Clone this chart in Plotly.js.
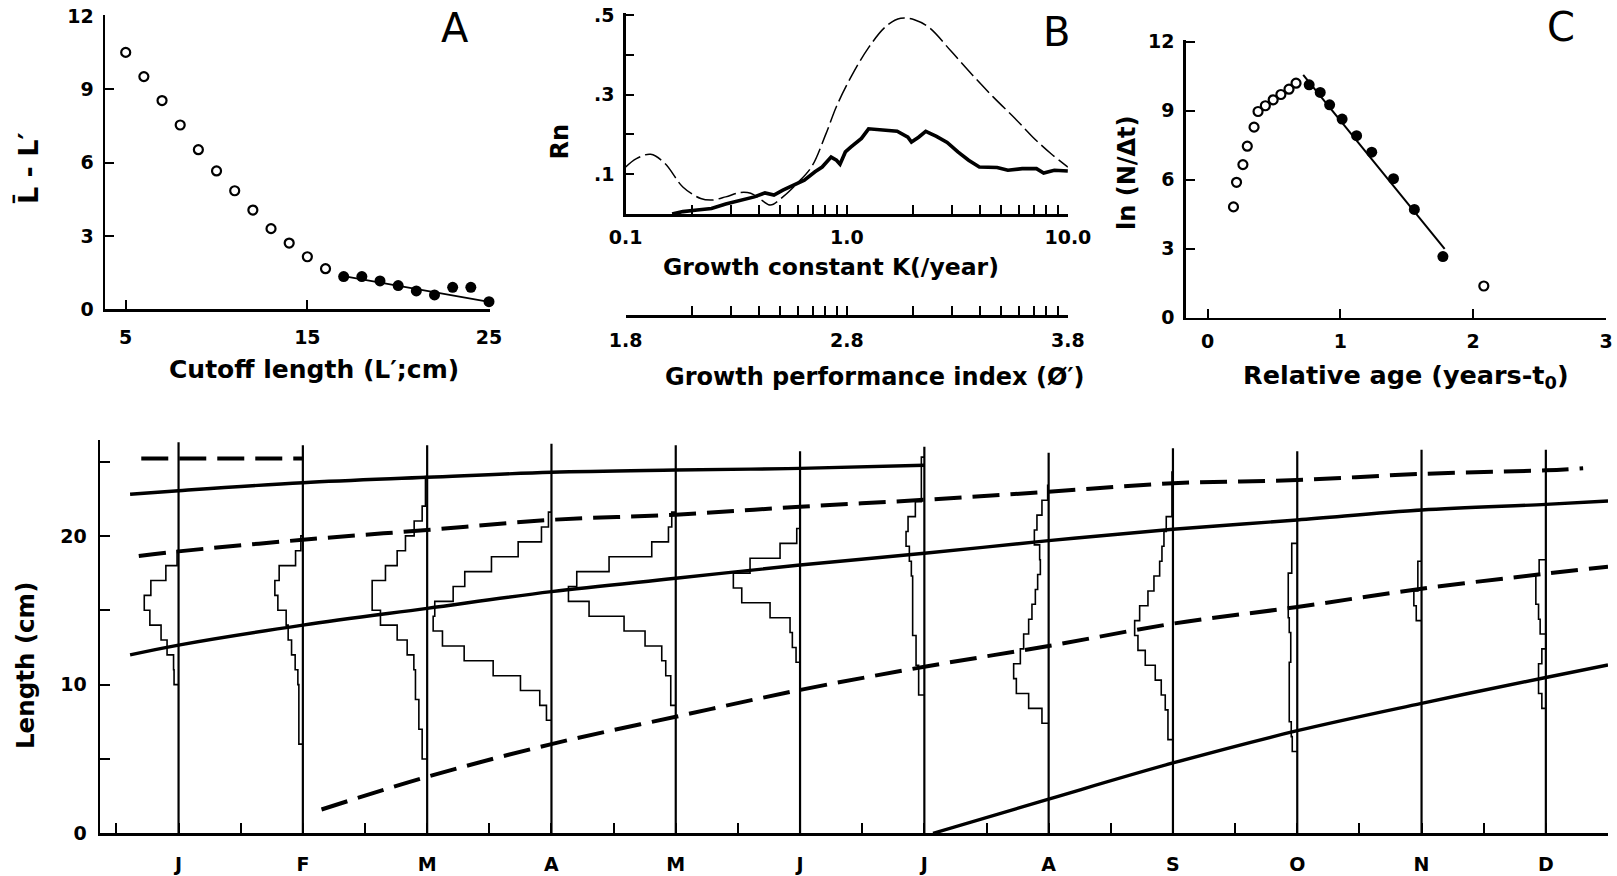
<!DOCTYPE html>
<html><head><meta charset="utf-8">
<script src="https://cdn.plot.ly/plotly-3.0.1.min.js"></script>
<style>html,body{margin:0;padding:0;background:#fff;} #chart{width:1617px;height:876px;}</style>
</head><body><div id="chart"></div>
<script>
// ---------- Panel A ----------
const cutoffOpen = [5,6,7,8,9,10,11,12,13,14,15,16];
const diffOpen = [10.51,9.52,8.54,7.54,6.53,5.66,4.85,4.06,3.30,2.71,2.15,1.66];
const cutoffFilled = [17,18,19,20,21,22,23,24,25];
const diffFilled = [1.34,1.34,1.16,0.97,0.75,0.59,0.90,0.90,0.31];
const fitAx = [17,25];
const fitAy = [1.36,0.30];

// ---------- Panel B ----------
const kDash = [0.1,0.1118,0.1297,0.1505,0.1813,0.2184,0.2442,0.2834,0.3289,0.3676,0.4111,0.4512,0.5139,0.5963,0.692,0.8029,0.8979,1.042,1.2546,1.511,1.7536,2.035,2.362,2.953,3.69,4.613,5.767,6.945,8.366,10];
const rnDash = [0.118,0.139,0.15,0.127,0.068,0.039,0.035,0.043,0.054,0.052,0.035,0.0225,0.043,0.077,0.118,0.2,0.27,0.343,0.418,0.4725,0.4917,0.4875,0.468,0.41,0.35,0.293,0.24,0.193,0.152,0.118];
const kSolid = [0.1622,0.1813,0.2104,0.2442,0.2834,0.3289,0.3817,0.4266,0.4683,0.5139,0.5744,0.6424,0.7181,0.7735,0.849,0.8979,0.9318,0.9852,1.042,1.1648,1.2546,1.4561,1.6898,1.889,1.9606,2.112,2.275,2.544,2.844,3.18,3.556,3.976,4.787,5.353,6.212,7.208,7.767,8.682,10];
const rnSolid = [0,0.006,0.01,0.014,0.025,0.033,0.043,0.053,0.0475,0.06,0.0725,0.085,0.106,0.118,0.143,0.135,0.125,0.156,0.168,0.19,0.214,0.212,0.208,0.193,0.181,0.193,0.2075,0.195,0.18,0.156,0.135,0.118,0.117,0.11,0.114,0.114,0.103,0.11,0.108];
const kTicks = [0.1,0.2,0.3,0.4,0.5,0.6,0.7,0.8,0.9,1,2,3,4,5,6,7,8,9,10];
const kLabelAt = [0.1,1,10];
const kLabels = ['0.1','1.0','10.0'];
const phiLabels = ['1.8','2.8','3.8'];
const rnTicks = [0,0.1,0.2,0.3,0.4,0.5];
const rnLabels = ['','.1','','.3','','.5'];

// ---------- Panel C ----------
const ageOpen = [0.195,0.218,0.266,0.299,0.35,0.38,0.435,0.494,0.552,0.613,0.666,2.08];
const lnOpen = [4.81,5.88,6.65,7.45,8.28,8.96,9.21,9.47,9.70,9.93,10.19,1.37];
const ageFilled = [0.765,0.848,0.919,1.013,1.122,1.236,1.40,1.557,1.772];
const lnFilled = [10.12,9.79,9.25,8.63,7.91,7.19,6.04,4.70,2.65];
const fitCx = [0.72,1.785];
const fitCy = [10.55,2.99];

// ---------- Panel D ----------
const monthLabels = ['J','F','M','A','M','J','J','A','S','O','N','D'];
const monthLineTop = [26.3,26.1,26.1,26.2,26.1,25.7,26.0,25.6,25.9,25.7,25.8,25.8];
const g1x = [-0.39,0,1,2,3,4,5,6];
const g1y = [22.8,23.04,23.58,23.94,24.28,24.43,24.54,24.75];
const g2x = [-0.3,1.0];
const g2y = [25.2,25.2];
const g3x = [-0.32,0,1,2,3,4,5,6,7,8,9,10,11,11.3];
const g3y = [18.65,18.96,19.74,20.4,21.08,21.43,21.96,22.43,22.97,23.54,23.76,24.17,24.41,24.55];
const g4x = [-0.39,0,1,2,3,4,5,6,7,8,9,10,11,11.5];
const g4y = [12.0,12.66,14.0,15.13,16.25,17.15,18.04,18.83,19.68,20.45,21.07,21.74,22.12,22.35];
const g5x = [1.15,2,3,4,5,6,7,8,9,10,11,11.5];
const g5y = [1.6,3.8,6.0,7.84,9.64,11.2,12.6,14.1,15.22,16.45,17.46,17.93];
const g6x = [6.07,7,8,9,10,11,11.5];
const g6y = [0,2.3,4.73,6.9,8.74,10.48,11.32];
// length-frequency histograms: lowest bin edge (cm), 1-cm bins, relative frequency
const histStart = [10,6,5,7.6,8.6,11.5,9.3,7.4,6.3,5.5,14.3,8.4];
const histJan = [4.5,5,11.5,17.5,28.7,34.3,27.7,12.7,1.5];
const histFeb = [4,4,4,4,5,7.7,11.3,14.7,16.7,25,28,23.7,7.3,2];
const histMar = [5,5,8.3,8.3,11.7,11.7,13.3,20,30,46.7,55,55,41.7,30,21.7,13,5,1.7,1.7];
const histApr = [5,11.7,31,58.3,87.3,109,118.3,116.7,98.3,86.7,60,33.3,10,3];
const histMay = [5,5,10,14,30.7,51.7,86.7,107.3,99,66.7,24,7.3,4];
const histJun = [4,7.7,10,30,58.3,66.7,50,20,3.3];
const histJul = [5.7,5.7,8.3,8.3,11.7,11.7,11.7,11.7,13,15,18.3,16.3,9,3,3,3];
const histAug = [6.7,20,32.3,35,28.3,25,20,16.7,13.3,11,8.3,9,14.3,11.7,6.7,1];
const histSep = [5,5,7.7,11.7,17.7,27.7,35,38.3,33.3,25,19,13.3,11,9,6.7,1,1,1];
const histOct = [5,6,8,8,8,8,6.5,6.5,8,9,9,9,5.5,5.5];
const histNov = [5.3,7.7,3.7,3.7];
const histDec = [4,7.3,7.3,4,0,5.7,7.3,10,10,6.7];
const histAll = [histJan,histFeb,histMar,histApr,histMay,histJun,histJul,histAug,histSep,histOct,histNov,histDec];
const binWidth = 1;          // cm
const freqToMonth = 1/124.3; // horizontal scale of the histograms

// ---------- layout helpers ----------
const W = 1617, H = 876;
const FONT = 'DejaVu Sans';
const dx = (a,b) => [a/W, b/W];
const dy = (bottom,top) => [1-bottom/H, 1-top/H];
const tickFont = {family:FONT, size:19, color:'#000', weight:700};
const tf = (s) => ({family:FONT, size:s, color:'#000', weight:700});
const axBase = {showgrid:false, zeroline:false, showline:true, linecolor:'#000', linewidth:2.5,
  ticks:'inside', ticklen:9, tickwidth:2, tickcolor:'#000', tickfont:tickFont, fixedrange:true};

const traces = [];
// Panel A
traces.push({x:fitAx, y:fitAy, xaxis:'x', yaxis:'y', mode:'lines', line:{color:'#000', width:1.8}, cliponaxis:false});
traces.push({x:cutoffOpen, y:diffOpen, xaxis:'x', yaxis:'y', mode:'markers', cliponaxis:false,
  marker:{symbol:'circle-open', size:9, color:'#000', line:{width:2.2, color:'#000'}}});
traces.push({x:cutoffFilled, y:diffFilled, xaxis:'x', yaxis:'y', mode:'markers', cliponaxis:false,
  marker:{symbol:'circle', size:11, color:'#000'}});
// Panel B
traces.push({x:kDash, y:rnDash, xaxis:'x2', yaxis:'y2', mode:'lines', line:{color:'#000', width:1.5, dash:'18px,5px', shape:'spline'}, cliponaxis:false});
traces.push({x:kSolid, y:rnSolid, xaxis:'x2', yaxis:'y2', mode:'lines', line:{color:'#000', width:3.6}, cliponaxis:false});
traces.push({x:[], y:[], xaxis:'x4', yaxis:'y4', mode:'lines', hoverinfo:'skip'});
// Panel C
traces.push({x:fitCx, y:fitCy, xaxis:'x3', yaxis:'y3', mode:'lines', line:{color:'#000', width:2}, cliponaxis:false});
traces.push({x:ageOpen, y:lnOpen, xaxis:'x3', yaxis:'y3', mode:'markers', cliponaxis:false,
  marker:{symbol:'circle-open', size:9, color:'#000', line:{width:2.2, color:'#000'}}});
traces.push({x:ageFilled, y:lnFilled, xaxis:'x3', yaxis:'y3', mode:'markers', cliponaxis:false,
  marker:{symbol:'circle', size:11, color:'#000'}});
// Panel D: histograms
histAll.forEach((f, m) => {
  const xs = [m], ys = [histStart[m]];
  f.forEach((v, i) => {
    const lo = histStart[m] + i*binWidth, hi = lo + binWidth;
    xs.push(m - v*freqToMonth, m - v*freqToMonth);
    ys.push(lo, hi);
  });
  xs.push(m); ys.push(histStart[m] + f.length*binWidth);
  traces.push({x:xs, y:ys, xaxis:'x5', yaxis:'y5', mode:'lines', line:{color:'#000', width:1.6}, cliponaxis:false});
});
// month lines
{
  const xs = [], ys = [];
  monthLineTop.forEach((t, m) => { xs.push(m, m, null); ys.push(0, t, null); });
  traces.push({x:xs, y:ys, xaxis:'x5', yaxis:'y5', mode:'lines', line:{color:'#000', width:2.2}, cliponaxis:false});
}
const solidD = {color:'#000', width:3.4, shape:'spline'};
const dashD = {color:'#000', width:4, dash:'27px,11px', shape:'spline'};
[[g1x,g1y,solidD],[g2x,g2y,dashD],[g3x,g3y,dashD],[g4x,g4y,solidD],[g5x,g5y,dashD],[g6x,g6y,solidD]].forEach(([x,y,l]) => {
  traces.push({x:x, y:y, xaxis:'x5', yaxis:'y5', mode:'lines', line:l, cliponaxis:false});
});

// D x ticks: month labels + half-month ticks
const dTickVals = [], dTickText = [];
monthLabels.forEach((lab, m) => { dTickVals.push(m-0.5, m); dTickText.push('', lab); });
dTickVals.push(monthLabels.length-0.5); dTickText.push('');
const kText = kTicks.map(v => { const i = kLabelAt.indexOf(v); return i >= 0 ? kLabels[i] : ''; });
const phiText = kTicks.map(v => { const i = kLabelAt.indexOf(v); return i >= 0 ? phiLabels[i] : ''; });

const note = (text, x, y, size, angle) => ({text:text, xref:'paper', yref:'paper', x:x/W, y:1-y/H,
  xanchor:'center', yanchor:'middle', textangle:angle||0, showarrow:false, font:tf(size)});

const layout = {
  width:W, height:H, margin:{l:0,r:0,t:0,b:0}, paper_bgcolor:'#fff', plot_bgcolor:'rgba(0,0,0,0)',
  showlegend:false, font:{family:FONT, color:'#000'},
  // A
  xaxis: Object.assign({}, axBase, {domain:dx(105,490), range:[3.86,25.055], anchor:'y',
    tickvals:[5,15,25], ticklabelstandoff:9}),
  yaxis: Object.assign({}, axBase, {domain:dy(309.3,15), range:[0,12.04], anchor:'x',
    tickvals:[0,3,6,9,12], ticklabelstandoff:5}),
  // B
  xaxis2: Object.assign({}, axBase, {domain:dx(625.7,1067.9), type:'log', range:[-1,1], anchor:'y2',
    tickvals:kTicks, ticktext:kText, ticklabelstandoff:5}),
  yaxis2: Object.assign({}, axBase, {domain:dy(214,13), range:[0,0.505], anchor:'x2',
    tickvals:rnTicks, ticktext:rnLabels, ticklen:8, ticklabelstandoff:5}),
  xaxis4: Object.assign({}, axBase, {domain:dx(625.7,1067.9), type:'log', range:[-1,1], anchor:'y4',
    tickvals:kTicks, ticktext:phiText, ticklabelstandoff:7}),
  yaxis4: {domain:dy(315,305), visible:false, range:[0,1], anchor:'x4', fixedrange:true},
  // C
  xaxis3: Object.assign({}, axBase, {domain:dx(1185.8,1606), range:[-0.164,3], anchor:'y3',
    tickvals:[0,1,2,3], ticklabelstandoff:5}),
  yaxis3: Object.assign({}, axBase, {domain:dy(317.5,40), range:[0,12.07], anchor:'x3',
    tickvals:[0,3,6,9,12], ticklabelstandoff:5}),
  // D
  xaxis5: Object.assign({}, axBase, {domain:dx(100,1608), range:[-0.632,11.5], anchor:'y5',
    tickvals:dTickVals, ticktext:dTickText, ticklen:10, ticklabelstandoff:12}),
  yaxis5: Object.assign({}, axBase, {domain:dy(833.3,440), range:[0,26.45], anchor:'x5',
    tickvals:[0,5,10,15,20,25], ticktext:['0','','10','','20',''], ticklen:10, ticklabelstandoff:7}),
  annotations: [
    note('Cutoff length (L′;cm)', 313.5, 369, 25),
    note('L̄ - L′', 28, 168, 27, -90),
    note('Growth constant K(/year)', 831, 267, 23.5),
    note('Growth performance index (Ø′)', 874.8, 377, 24),
    note('Rn', 559.6, 142, 24, -90),
    note('Relative age (years-t<sub>0</sub>)', 1406, 376, 25.5),
    note('ln (N/Δt)', 1127, 173, 24, -90),
    note('Length (cm)', 25, 666, 24.5, -90),
    {text:'A', xref:'paper', yref:'paper', x:454.5/W, y:1-28.3/H, xanchor:'center', yanchor:'middle', showarrow:false, font:{family:FONT, size:40, color:'#000'}},
    {text:'B', xref:'paper', yref:'paper', x:1056/W, y:1-31.7/H, xanchor:'center', yanchor:'middle', showarrow:false, font:{family:FONT, size:40, color:'#000'}},
    {text:'C', xref:'paper', yref:'paper', x:1560.6/W, y:1-26.7/H, xanchor:'center', yanchor:'middle', showarrow:false, font:{family:FONT, size:40, color:'#000'}}
  ]
};
Plotly.newPlot('chart', traces, layout, {staticPlot:true, displayModeBar:false});
</script></body></html>
